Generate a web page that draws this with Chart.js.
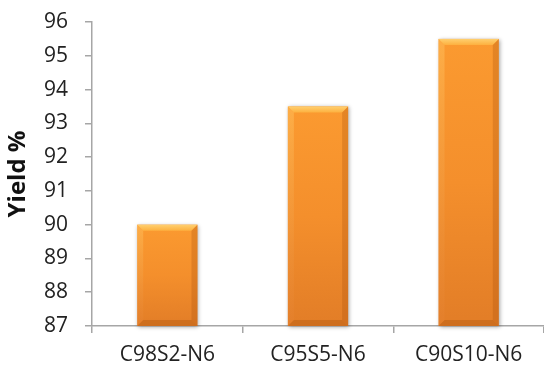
<!DOCTYPE html>
<html>
<head>
<meta charset="utf-8">
<script src="https://cdn.jsdelivr.net/npm/chart.js@4/dist/chart.umd.min.js"></script>
<style>
  html, body { margin: 0; padding: 0; background: #ffffff; }
  #wrap { width: 544px; height: 367px; }
</style>
</head>
<body>
<div id="wrap"><canvas id="c"></canvas></div>
<script>
const categories = ['C98S2-N6', 'C95S5-N6', 'C90S10-N6'];
const yieldValues = [90.0, 93.5, 95.5];
const yMin = 87;
const yMax = 96;
const axisTitle = 'Yield %';

const fontFamily = "'Open Sans', Lato, 'Liberation Sans', sans-serif";
const axisGray = '#a6a6a6';

// Bevelled orange bars: soft shadow, vertical shading and lighter/darker edges
const bevelBars = {
  id: 'bevelBars',
  afterDatasetsDraw(chart) {
    const ctx = chart.ctx;
    const area = chart.chartArea;
    const meta = chart.getDatasetMeta(0);
    meta.data.forEach(bar => {
      const left = bar.x - bar.width / 2;
      const right = bar.x + bar.width / 2;
      const top = bar.y;
      const bottom = Math.min(bar.base, area.bottom);
      const w = right - left;
      const h = bottom - top;
      const b = 6; // bevel size

      ctx.save();
      ctx.shadowColor = 'rgba(0,0,0,0.35)';
      ctx.shadowBlur = 4;
      ctx.shadowOffsetX = 1;
      ctx.shadowOffsetY = 1;
      const body = ctx.createLinearGradient(0, top, 0, bottom);
      body.addColorStop(0, '#fb9a30');
      body.addColorStop(0.5, '#f48f2c');
      body.addColorStop(1, '#e27d27');
      ctx.fillStyle = body;
      ctx.fillRect(left, top, w, h);
      ctx.restore();

      ctx.save();
      // top bevel
      const topG = ctx.createLinearGradient(0, top, 0, top + b);
      topG.addColorStop(0, '#ffd070');
      topG.addColorStop(1, '#fdb140');
      ctx.fillStyle = topG;
      ctx.beginPath();
      ctx.moveTo(left, top);
      ctx.lineTo(right, top);
      ctx.lineTo(right - b, top + b);
      ctx.lineTo(left + b, top + b);
      ctx.closePath();
      ctx.fill();

      // left bevel
      const leftG = ctx.createLinearGradient(0, top, 0, bottom);
      leftG.addColorStop(0, 'rgba(255,190,90,0.55)');
      leftG.addColorStop(1, 'rgba(230,130,50,0.35)');
      ctx.fillStyle = leftG;
      ctx.beginPath();
      ctx.moveTo(left, top);
      ctx.lineTo(left + b, top + b);
      ctx.lineTo(left + b, bottom - b);
      ctx.lineTo(left, bottom);
      ctx.closePath();
      ctx.fill();

      // right bevel
      ctx.fillStyle = 'rgba(170,80,10,0.28)';
      ctx.beginPath();
      ctx.moveTo(right, top);
      ctx.lineTo(right, bottom);
      ctx.lineTo(right - b, bottom - b);
      ctx.lineTo(right - b, top + b);
      ctx.closePath();
      ctx.fill();

      // bottom bevel
      ctx.fillStyle = 'rgba(160,75,10,0.3)';
      ctx.beginPath();
      ctx.moveTo(left, bottom);
      ctx.lineTo(right, bottom);
      ctx.lineTo(right - b, bottom - b);
      ctx.lineTo(left + b, bottom - b);
      ctx.closePath();
      ctx.fill();
      ctx.restore();
    });
  }
};

new Chart(document.getElementById('c'), {
  type: 'bar',
  data: {
    labels: categories,
    datasets: [{
      data: yieldValues,
      backgroundColor: 'rgba(0,0,0,0)',
      borderWidth: 0,
      categoryPercentage: 1.0,
      barPercentage: 0.4
    }]
  },
  options: {
    responsive: true,
    maintainAspectRatio: false,
    animation: false,
    layout: { padding: { top: 22, right: 0, bottom: 0, left: 4 } },
    plugins: {
      legend: { display: false },
      tooltip: { enabled: false }
    },
    scales: {
      x: {
        offset: true,
        afterFit: scale => { scale.height = 41; scale.paddingLeft = 0; scale.paddingRight = 0; },
        grid: {
          display: true,
          drawOnChartArea: false,
          offset: true,
          tickLength: 7,
          color: axisGray,
          lineWidth: 1.5
        },
        border: { display: true, color: axisGray, width: 1.5 },
        ticks: {
          color: '#222222',
          font: { family: fontFamily, size: 21 },
          padding: 9,
          maxRotation: 0
        }
      },
      y: {
        min: yMin,
        max: yMax,
        afterFit: scale => { scale.width = 88; scale.paddingTop = 0; scale.paddingBottom = 0; },
        ticks: {
          stepSize: 1,
          color: '#222222',
          font: { family: fontFamily, size: 21 },
          padding: 17
        },
        grid: {
          display: true,
          drawOnChartArea: false,
          tickLength: 7,
          color: axisGray,
          lineWidth: 1.5
        },
        border: { display: true, color: axisGray, width: 1.5 },
        title: {
          display: true,
          text: axisTitle,
          color: '#111111',
          font: { family: fontFamily, size: 24, weight: 'bold' },
          padding: { top: 0, bottom: 0 }
        }
      }
    }
  },
  plugins: [bevelBars]
});
</script>
</body>
</html>
